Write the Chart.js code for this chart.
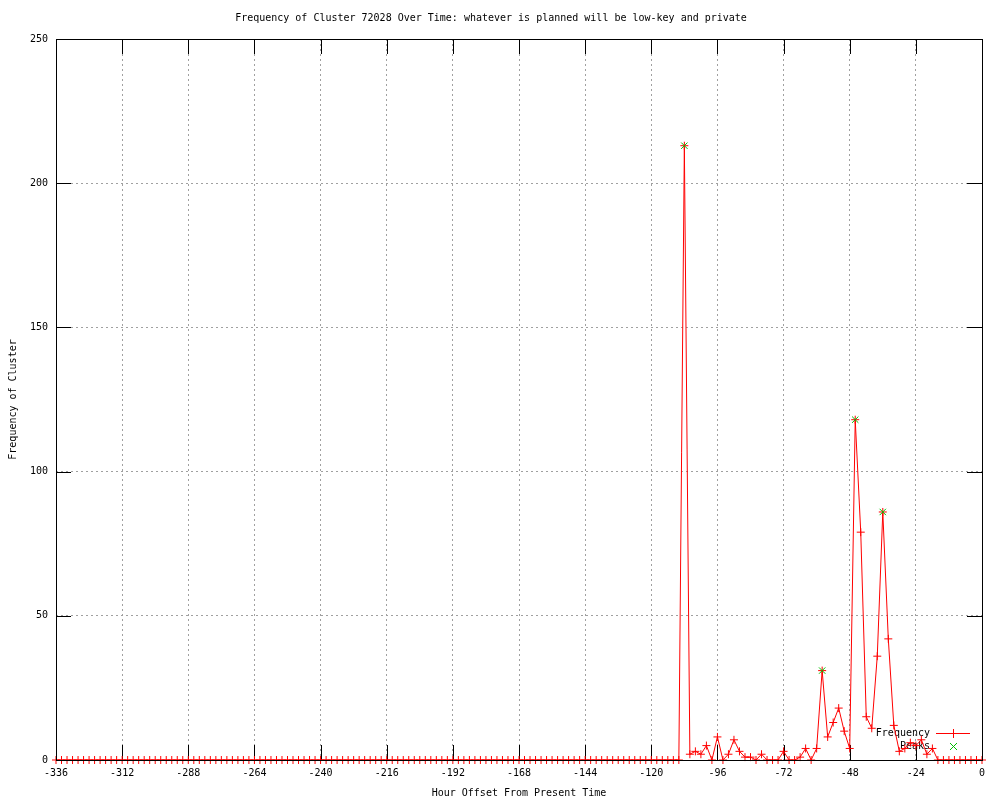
<!DOCTYPE html>
<html>
<head>
<meta charset="utf-8">
<title>Frequency of Cluster 72028</title>
<script src="https://cdn.jsdelivr.net/npm/chart.js@4.4.1/dist/chart.umd.min.js"></script>
<style>
  html, body { margin: 0; padding: 0; background: #fff; }
  canvas { display: block; }
</style>
</head>
<body>
<canvas id="chart" width="1000" height="800"></canvas>
<script>
// hour offsets (one sample every 2 hours)
const hours = [
  -336, -334, -332, -330, -328, -326, -324, -322, -320, -318, -316, -314,
  -312, -310, -308, -306, -304, -302, -300, -298, -296, -294, -292, -290,
  -288, -286, -284, -282, -280, -278, -276, -274, -272, -270, -268, -266,
  -264, -262, -260, -258, -256, -254, -252, -250, -248, -246, -244, -242,
  -240, -238, -236, -234, -232, -230, -228, -226, -224, -222, -220, -218,
  -216, -214, -212, -210, -208, -206, -204, -202, -200, -198, -196, -194,
  -192, -190, -188, -186, -184, -182, -180, -178, -176, -174, -172, -170,
  -168, -166, -164, -162, -160, -158, -156, -154, -152, -150, -148, -146,
  -144, -142, -140, -138, -136, -134, -132, -130, -128, -126, -124, -122,
  -120, -118, -116, -114, -112, -110, -108, -106, -104, -102, -100, -98,
  -96, -94, -92, -90, -88, -86, -84, -82, -80, -78, -76, -74,
  -72, -70, -68, -66, -64, -62, -60, -58, -56, -54, -52, -50,
  -48, -46, -44, -42, -40, -38, -36, -34, -32, -30, -28, -26,
  -24, -22, -20, -18, -16, -14, -12, -10, -8, -6, -4, -2,
  0
];

const frequency = [
  0, 0, 0, 0, 0, 0, 0, 0, 0, 0, 0, 0,
  0, 0, 0, 0, 0, 0, 0, 0, 0, 0, 0, 0,
  0, 0, 0, 0, 0, 0, 0, 0, 0, 0, 0, 0,
  0, 0, 0, 0, 0, 0, 0, 0, 0, 0, 0, 0,
  0, 0, 0, 0, 0, 0, 0, 0, 0, 0, 0, 0,
  0, 0, 0, 0, 0, 0, 0, 0, 0, 0, 0, 0,
  0, 0, 0, 0, 0, 0, 0, 0, 0, 0, 0, 0,
  0, 0, 0, 0, 0, 0, 0, 0, 0, 0, 0, 0,
  0, 0, 0, 0, 0, 0, 0, 0, 0, 0, 0, 0,
  0, 0, 0, 0, 0, 0, 213, 2, 3, 2, 5, 0,
  8, 0, 2, 7, 3, 1, 1, 0, 2, 0, 0, 0,
  3, 0, 0, 1, 4, 0, 4, 31, 8, 13, 18, 10,
  4, 118, 79, 15, 11, 36, 86, 42, 12, 3, 4, 6,
  5, 7, 2, 4, 0, 0, 0, 0, 0, 0, 0, 0,
  0
];

const peakHours = [-108, -58, -46, -36];
const peakValues = [213, 31, 118, 86];

const xTicks = [-336, -312, -288, -264, -240, -216, -192, -168, -144, -120, -96, -72, -48, -24, 0];
const yTicks = [0, 50, 100, 150, 200, 250];

const FONT = "'DejaVu Sans Mono', 'Liberation Mono', monospace";
const TIC = 15;
const RED = '#ff0000';
const GREEN = '#00c000';

// gnuplot-like frame: inward mirrored tics, border on top, key inside bottom right
const gnuplotFrame = {
  id: 'gnuplotFrame',
  beforeDatasetsDraw(chart) {
    const { ctx, chartArea: a, scales: { x, y } } = chart;
    ctx.save();
    ctx.strokeStyle = '#000';
    ctx.lineWidth = 1;
    ctx.beginPath();
    xTicks.forEach(v => {
      const px = Math.round(x.getPixelForValue(v)) + 0.5;
      ctx.moveTo(px, a.bottom);
      ctx.lineTo(px, a.bottom - TIC);
      ctx.moveTo(px, a.top);
      ctx.lineTo(px, a.top + TIC);
    });
    yTicks.forEach(v => {
      const py = Math.round(y.getPixelForValue(v)) + 0.5;
      ctx.moveTo(a.left, py);
      ctx.lineTo(a.left + TIC, py);
      ctx.moveTo(a.right, py);
      ctx.lineTo(a.right - TIC, py);
    });
    ctx.stroke();

    // key text (data is drawn over it, as gnuplot does)
    ctx.font = '10px ' + FONT;
    ctx.fillStyle = '#000';
    ctx.textAlign = 'right';
    ctx.textBaseline = 'middle';
    const tx = Math.round(a.right) - 52;
    ctx.fillText('Frequency', tx, Math.round(a.bottom) - 27);
    ctx.fillText('Peaks', tx, Math.round(a.bottom) - 14);
    ctx.restore();
  },
  afterDatasetsDraw(chart) {
    const { ctx, chartArea: a } = chart;
    ctx.save();
    ctx.lineWidth = 1;
    ctx.strokeStyle = '#000';
    const l = Math.round(a.left) + 0.5, t = Math.round(a.top) + 0.5;
    const r = Math.round(a.right) + 0.5, b = Math.round(a.bottom) + 0.5;
    ctx.strokeRect(l, t, r - l, b - t);

    // key samples, pixel-exact
    const row1 = Math.round(a.bottom) - 27;
    const row2 = Math.round(a.bottom) - 14;
    const mx = Math.round(a.right) - 29;
    ctx.fillStyle = RED;
    ctx.fillRect(Math.round(a.right) - 46, row1, 34, 1);
    ctx.fillRect(mx, row1 - 4, 1, 9);
    ctx.fillStyle = GREEN;
    for (let d = -3; d <= 3; d++) {
      ctx.fillRect(mx + d, row2 + d, 1, 1);
      ctx.fillRect(mx + d, row2 - d, 1, 1);
    }
    ctx.restore();
  }
};

new Chart(document.getElementById('chart'), {
  type: 'line',
  data: {
    datasets: [
      {
        label: 'Peaks',
        data: peakHours.map((h, i) => ({ x: h, y: peakValues[i] })),
        showLine: false,
        pointStyle: 'crossRot',
        pointRadius: 4.5,
        pointBorderColor: GREEN,
        pointBackgroundColor: GREEN,
        pointBorderWidth: 1,
        clip: false,
        order: 0
      },
      {
        label: 'Frequency',
        data: hours.map((h, i) => ({ x: h, y: frequency[i] })),
        borderColor: RED,
        borderWidth: 1,
        tension: 0,
        pointStyle: 'cross',
        pointRadius: 4,
        pointBorderColor: RED,
        pointBorderWidth: 1,
        clip: false,
        order: 1
      }
    ]
  },
  options: {
    responsive: false,
    animation: false,
    events: [],
    layout: { padding: { right: 18 } },
    plugins: {
      legend: { display: false },
      tooltip: { enabled: false },
      title: {
        display: true,
        text: 'Frequency of Cluster 72028 Over Time: whatever is planned will be low-key and private',
        color: '#000',
        font: { family: FONT, size: 10, weight: 'normal', lineHeight: 1.2 },
        padding: { top: 12, bottom: 15 }
      }
    },
    scales: {
      x: {
        type: 'linear',
        min: -336,
        max: 0,
        afterBuildTicks: s => { s.ticks = xTicks.map(v => ({ value: v })); },
        afterFit: s => { s.height = 40; },
        ticks: {
          color: '#000',
          font: { family: FONT, size: 10 },
          padding: 7,
          maxRotation: 0,
          autoSkip: false
        },
        grid: { color: '#a0a0a0', drawTicks: false, tickLength: 0 },
        border: { display: false, dash: [2, 3] },
        title: {
          display: true,
          text: 'Hour Offset From Present Time',
          color: '#000',
          font: { family: FONT, size: 10, lineHeight: 1.2 },
          padding: { top: 0, bottom: 1 }
        }
      },
      y: {
        min: 0,
        max: 250,
        afterBuildTicks: s => { s.ticks = yTicks.map(v => ({ value: v })); },
        afterFit: s => { s.width = 56; },
        ticks: {
          color: '#000',
          font: { family: FONT, size: 10 },
          padding: 8
        },
        grid: { color: '#a0a0a0', drawTicks: false, tickLength: 0 },
        border: { display: false, dash: [2, 3] },
        title: {
          display: true,
          text: 'Frequency of Cluster',
          color: '#000',
          font: { family: FONT, size: 10, lineHeight: 1.2 },
          padding: { top: 7, bottom: 0 }
        }
      }
    }
  },
  plugins: [gnuplotFrame]
});
</script>
</body>
</html>
